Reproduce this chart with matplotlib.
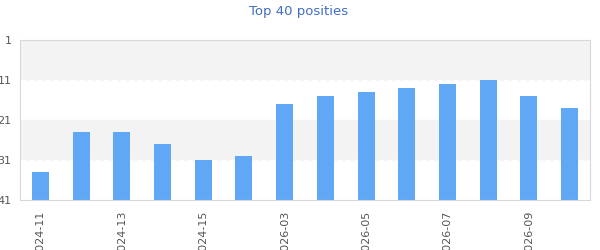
import matplotlib
matplotlib.use('Agg')
import matplotlib.pyplot as plt

# weeks and chart positions
weeks = ['2024-11', '2024-12', '2024-13', '2024-14', '2024-15', '2024-16',
         '2026-03', '2026-04', '2026-05', '2026-06', '2026-07', '2026-08',
         '2026-09', '2026-10']
positions = [34, 24, 24, 27, 31, 30, 17, 15, 14, 13, 12, 11, 15, 18]
y_ticks = [1, 11, 21, 31, 41]

fig = plt.figure(figsize=(6, 2.5), dpi=100)
ax = fig.add_axes([20 / 600, 50 / 250, 570 / 600, 160 / 250])

# alternating bands
ax.axhspan(1, 11, color='#f3f3f3', zorder=0)
ax.axhspan(21, 31, color='#f3f3f3', zorder=0)
for yv in [11, 31]:
    ax.axhline(yv, color='white', lw=1, ls=(0, (4, 2)), zorder=1)

x = list(range(len(weeks)))
heights = [p - 41 for p in positions]
ax.bar(x, heights, bottom=41, width=0.42, color='#60a8f5', zorder=2)

ax.set_xlim(-0.5, len(weeks) - 0.5)
ax.set_ylim(41, 1)
ax.set_yticks(y_ticks)
ax.set_yticklabels([str(t) for t in y_ticks])
ax.set_xticks(x[::2])
ax.set_xticklabels(weeks[::2], rotation=90, va='top', ha='center')
ax.tick_params(length=0, labelsize=8, colors='#555555')
ax.tick_params(axis='y', pad=6)
ax.tick_params(axis='x', pad=8)

for s in ax.spines.values():
    s.set_color('#d8d8d8')

fig.text(0.4983, 0.955, 'Top 40 posities', ha='center', va='center',
         fontsize=9.5, color='#3f6ec4')

fig.savefig('out.png', dpi=100)
plt.close()
